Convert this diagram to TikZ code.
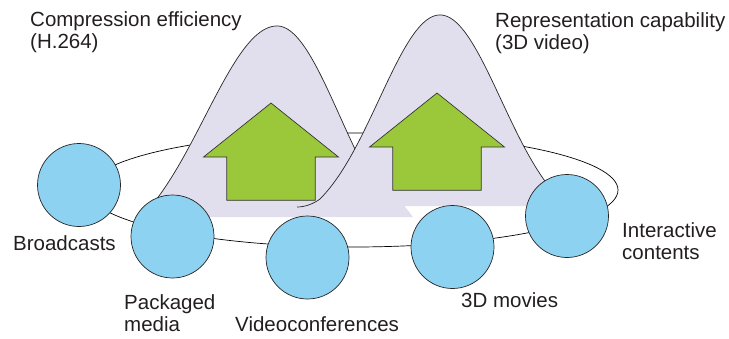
\documentclass[tikz,border=0pt]{standalone}
\usepackage{fontspec}
\setmainfont{Liberation Sans}
\usepackage{tikz}

\definecolor{hillfill}{HTML}{E1DFEE}
\definecolor{discblue}{HTML}{8ED2F2}
\definecolor{arrowgreen}{HTML}{9AC83A}
\definecolor{textgray}{HTML}{231F20}

\begin{document}
\begin{tikzpicture}[x=1pt,y=-1pt,
	disc/.style={circle,draw=black!85,line width=0.7pt,fill=discblue,minimum size=83pt,inner sep=0pt},
	caption/.style={anchor=base west,inner sep=0pt,text=textgray,align=left,font=\fontsize{20.5}{22}\selectfont},
	hilledge/.style={draw=black!85,line width=0.7pt},
	uparrow/.style={draw=black!80,fill=arrowgreen,line width=0.7pt}]
			\useasboundingbox (0,0) rectangle (729,338);
			
			% ring of applications
			\draw[line width=0.7pt] (353,190) ellipse [x radius=265pt, y radius=57pt];
			
			% compression efficiency hill
			\fill[hillfill] plot[domain=150:277,samples=60] ({\x},{26+230*(1-exp(-0.5*((\x-277)/72)^2))})
				-- plot[domain=277:370,samples=50] ({\x},{26+230*(1-exp(-0.5*((\x-277)/63)^2))})
				-- (400,200) -- (413,217) -- (150,217) -- cycle;
			\draw[hilledge] plot[domain=150:277,samples=60] ({\x},{26+230*(1-exp(-0.5*((\x-277)/72)^2))})
				-- plot[domain=277:370,samples=50] ({\x},{26+230*(1-exp(-0.5*((\x-277)/63)^2))});
			
			% representation capability hill
			\fill[hillfill] (297,207) .. controls (305,207) and (313,204) .. (320,199)
				-- plot[domain=320:560,samples=110] ({\x},{15+215*(1-exp(-0.5*((\x-440)/61)^2))})
				-- (560,206) -- (297,206) -- cycle;
			\draw[hilledge] (297,207) .. controls (305,207) and (313,204) .. (320,199)
				-- plot[domain=320:558,samples=110] ({\x},{15+215*(1-exp(-0.5*((\x-440)/61)^2))});
			
			% arrows
			\foreach \ax/\ay in {271/103, 437/93}
				\draw[uparrow] (\ax,\ay) -- ++(67.5,54) -- ++(-23.3,0) -- ++(0,43.3) -- ++(-88.4,0) -- ++(0,-43.3) -- ++(-23.3,0) -- cycle;
			
			% applications
			\node[disc] (broadcast) at (79,185) {};
			\node[disc] (packaged) at (172.5,236.5) {};
			\node[disc] (videoconf) at (307.5,257.5) {};
			\node[disc] (movies) at (452.5,247) {};
			\node[disc] (interactive) at (567,216) {};
			
			\node[caption] (broadcastlabel) at (13,250) {Broadcasts};
			\node[caption] (packagedlabel) at (124,331.7) {Packaged\\media};
			\node[caption] (videoconflabel) at (235,331.5) {Videoconferences};
			\node[caption] (movieslabel) at (461,307) {3D movies};
			\node[caption] (interactivelabel) at (622,259) {Interactive\\contents};
			
			\node[caption] (compressionlabel) at (30,48.5) {Compression efficiency\\(H.264)};
			\node[caption] (representationlabel) at (495,49.5) {Representation capability\\(3D video)};
		\end{tikzpicture}
\end{document}
